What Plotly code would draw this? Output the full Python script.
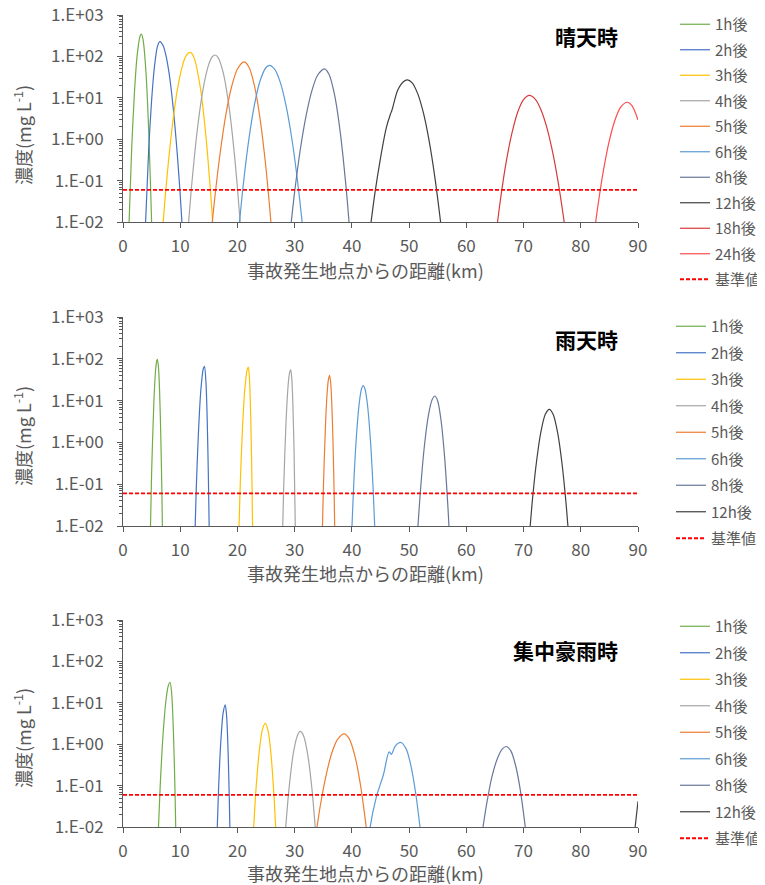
import plotly.graph_objects as go

W, H = 765, 885
OFF = 8  # the page body margin shifts the figure by this many pixels
FONT = "Noto Sans CJK JP"
GRAY = "#595959"

# ---------------- 晴天時 (sunny) ----------------
sunny_labels = ["1h後", "2h後", "3h後", "4h後", "5h後", "6h後", "8h後", "12h後", "18h後", "24h後"]
sunny_1h_km = [0.9, 1.5, 2.0, 2.5, 3.0, 3.2, 3.5, 4.0, 4.5, 5.0, 5.2]
sunny_1h_conc = [0.0023, 0.51, 13.5, 115, 316, 347, 257, 44, 1.48, 0.010, 0.0009]
sunny_2h_km = [3.7, 4.5, 5.0, 5.5, 6.0, 6.43, 7.0, 7.5, 8.0, 8.5, 9.0, 9.5, 10.0, 10.5]
sunny_2h_conc = [0.0016, 0.60, 8.7, 57, 170, 228, 183, 106, 44, 12.9, 2.7, 0.41, 0.045, 0.0035]
sunny_3h_km = [6.8, 7.5, 8.5, 9.5, 10.5, 11.0, 11.7, 12.0, 12.5, 13.5, 14.5, 15.5, 16.0]
sunny_3h_conc = [0.0041, 0.063, 1.53, 15.7, 68, 102, 126, 119, 86, 18.1, 1.15, 0.022, 0.0020]
sunny_4h_km = [11.2, 12.0, 13.0, 14.0, 15.0, 15.6, 16.08, 16.6, 17.5, 18.5, 19.5, 20.5, 20.8]
sunny_4h_conc = [0.0034, 0.077, 1.74, 16.5, 65, 98, 108, 95, 41, 6.5, 0.39, 0.0089, 0.0024]
sunny_5h_km = [15.3, 16.0, 17.0, 18.0, 19.0, 20.0, 21.17, 22.0, 23.0, 24.0, 25.0, 25.8, 26.2]
sunny_5h_conc = [0.0036, 0.034, 0.49, 4.1, 19.0, 49.7, 73.6, 55.6, 18.8, 2.8, 0.19, 0.012, 0.0025]
sunny_6h_km = [20.0, 21.0, 22.0, 23.0, 24.0, 25.0, 25.61, 26.5, 27.5, 28.5, 29.5, 30.5, 31.3, 31.7]
sunny_6h_conc = [0.0030, 0.075, 1.0, 7.1, 27, 54, 61, 49, 23.3, 6.4, 1.04, 0.098, 0.010, 0.0028]
sunny_8h_km = [29.0, 30.0, 31.0, 32.0, 33.0, 34.0, 35.2, 36.0, 37.0, 38.0, 39.0, 39.5, 39.8]
sunny_8h_conc = [0.0030, 0.054, 0.58, 3.7, 14.7, 35, 50, 37, 11.3, 1.35, 0.065, 0.010, 0.0029]
sunny_12h_km = [43.0, 44.0, 45.0, 46.0, 46.7, 47.0, 48.0, 49.0, 49.7, 50.5, 51.5, 52.5, 53.5, 54.5, 55.5, 56.0]
sunny_12h_conc = [0.0041, 0.047, 0.35, 1.85, 3.9, 5.0, 15.2, 24.5, 27, 23.2, 12.6, 4.3, 0.91, 0.12, 0.010, 0.0024]
sunny_18h_km = [65.0, 66.0, 67.0, 68.0, 69.0, 70.0, 71.0, 72.0, 73.0, 74.0, 75.0, 76.0, 77.0, 77.5]
sunny_18h_conc = [0.0031, 0.038, 0.30, 1.46, 4.6, 9.0, 11.4, 9.4, 5.3, 2.07, 0.55, 0.10, 0.0126, 0.0039]
sunny_24h_km = [82.2, 83.0, 84.0, 85.0, 86.0, 87.0, 88.1, 89.0, 90.0]
sunny_24h_conc = [0.0036, 0.025, 0.19, 0.94, 2.96, 6.0, 7.8, 6.3, 2.9]

# ---------------- 雨天時 (rain) ----------------
rain_labels = ["1h後", "2h後", "3h後", "4h後", "5h後", "6h後", "8h後", "12h後"]
rain_1h_km = [4.6, 5.0, 5.4, 5.7, 5.9, 6.01, 6.2, 6.4, 6.6, 6.8, 7.0]
rain_1h_conc = [0.00046, 0.18, 9.7, 54, 90, 97, 63, 16, 1.55, 0.059, 0.00087]
rain_2h_km = [12.4, 12.8, 13.2, 13.6, 14.0, 14.24, 14.5, 14.7, 14.9, 15.1]
rain_2h_conc = [0.0010, 0.076, 1.9, 17.4, 55, 66, 27, 4.2, 0.22, 0.0042]
rain_3h_km = [20.0, 20.5, 20.9, 21.3, 21.7, 21.9, 22.1, 22.3, 22.5, 22.7]
rain_3h_conc = [0.0005, 0.11, 2.45, 19.5, 55, 63, 34, 5.2, 0.23, 0.0030]
rain_4h_km = [27.7, 28.1, 28.5, 28.9, 29.1, 29.3, 29.5, 29.7, 29.9, 30.2]
rain_4h_conc = [0.0007, 0.098, 3.3, 27, 46, 55, 33, 7.1, 0.55, 0.0017]
rain_5h_km = [34.6, 35.0, 35.4, 35.7, 35.9, 36.1, 36.3, 36.5, 36.7, 36.9, 37.1]
rain_5h_conc = [0.00026, 0.066, 2.95, 17, 32, 40, 26, 7.8, 1.0, 0.057, 0.0014]
rain_6h_km = [39.8, 40.3, 40.8, 41.3, 41.7, 41.98, 42.3, 42.7, 43.2, 43.7, 44.2]
rain_6h_conc = [0.0019, 0.087, 1.47, 9.1, 19.5, 22.7, 18.7, 8.5, 1.35, 0.084, 0.0020]
rain_8h_km = [51.3, 52.0, 52.7, 53.4, 54.0, 54.52, 55.0, 55.6, 56.2, 56.8, 57.2]
rain_8h_conc = [0.0030, 0.077, 0.89, 4.7, 10.4, 12.9, 9.8, 3.2, 0.45, 0.026, 0.0025]
rain_12h_km = [70.9, 71.6, 72.3, 73.0, 73.8, 74.5, 75.2, 76.0, 76.7, 77.4, 78.0]
rain_12h_conc = [0.0036, 0.050, 0.38, 1.70, 4.7, 6.2, 4.6, 1.58, 0.33, 0.038, 0.0037]

# ---------------- 集中豪雨時 (heavy rain) ----------------
heavy_labels = ["1h後", "2h後", "3h後", "4h後", "5h後", "6h後", "8h後", "12h後"]
heavy_1h_km = [6.0, 6.5, 7.0, 7.5, 7.9, 8.23, 8.5, 8.8, 9.1, 9.4]
heavy_1h_conc = [0.0021, 0.097, 1.7, 11.2, 25.5, 31.4, 17.3, 2.2, 0.063, 0.0004]
heavy_2h_km = [16.3, 16.7, 17.1, 17.5, 17.86, 18.1, 18.35, 18.6, 18.8]
heavy_2h_conc = [0.0019, 0.083, 1.2, 5.7, 8.9, 5.0, 0.79, 0.035, 0.0012]
heavy_3h_km = [22.6, 23.2, 23.8, 24.4, 24.87, 25.4, 25.9, 26.4, 26.9]
heavy_3h_conc = [0.0025, 0.067, 0.66, 2.37, 3.2, 1.96, 0.50, 0.052, 0.0023]
heavy_4h_km = [28.2, 29.0, 29.8, 30.5, 31.0, 31.6, 32.3, 33.0, 33.8]
heavy_4h_conc = [0.0037, 0.081, 0.64, 1.65, 2.03, 1.53, 0.54, 0.088, 0.0043]
heavy_5h_km = [33.6, 34.5, 35.5, 36.5, 37.5, 38.65, 39.5, 40.5, 41.5, 42.5, 42.8]
heavy_5h_conc = [0.0051, 0.034, 0.18, 0.62, 1.31, 1.78, 1.38, 0.54, 0.104, 0.010, 0.0043]
heavy_6h_km = [43.0, 43.2, 44.3, 45.5, 46.5, 46.9, 47.6, 48.57, 49.5, 50.3, 51.1, 51.9, 52.2]
heavy_6h_conc = [0.005, 0.010, 0.055, 0.18, 0.65, 0.57, 0.91, 1.1, 0.76, 0.31, 0.073, 0.010, 0.0042]
heavy_8h_km = [62.6, 63.5, 64.5, 65.5, 66.3, 67.0, 67.8, 68.6, 69.4, 70.3, 70.6]
heavy_8h_conc = [0.0050, 0.033, 0.17, 0.48, 0.77, 0.88, 0.68, 0.31, 0.083, 0.010, 0.0043]
heavy_12h_km = [89.2, 89.5, 90.0]
heavy_12h_conc = [0.004, 0.010, 0.042]

# reference value (基準値)
ref_label = "基準値"
ref_km = [0, 90]
ref_conc = [0.06, 0.06]

y_tickvals = [0.01, 0.1, 1, 10, 100, 1000]
y_ticktext = ["1.E-02", "1.E-01", "1.E+00", "1.E+01", "1.E+02", "1.E+03"]
x_title = "事故発生地点からの距離(km)"
y_title = "濃度(mg L<sup>-1</sup>)"
panel_titles = ["晴天時", "雨天時", "集中豪雨時"]

colors = {
    "1h後": "#70AD47", "2h後": "#4472C4", "3h後": "#FFC000", "4h後": "#A5A5A5",
    "5h後": "#ED7D31", "6h後": "#5B9BD5", "8h後": "#66789A", "12h後": "#404040",
    "18h後": "#D63A3A", "24h後": "#FF4B4B",
}

panels = [
    (sunny_labels, [(sunny_1h_km, sunny_1h_conc), (sunny_2h_km, sunny_2h_conc), (sunny_3h_km, sunny_3h_conc),
                    (sunny_4h_km, sunny_4h_conc), (sunny_5h_km, sunny_5h_conc), (sunny_6h_km, sunny_6h_conc),
                    (sunny_8h_km, sunny_8h_conc), (sunny_12h_km, sunny_12h_conc), (sunny_18h_km, sunny_18h_conc),
                    (sunny_24h_km, sunny_24h_conc)]),
    (rain_labels, [(rain_1h_km, rain_1h_conc), (rain_2h_km, rain_2h_conc), (rain_3h_km, rain_3h_conc),
                   (rain_4h_km, rain_4h_conc), (rain_5h_km, rain_5h_conc), (rain_6h_km, rain_6h_conc),
                   (rain_8h_km, rain_8h_conc), (rain_12h_km, rain_12h_conc)]),
    (heavy_labels, [(heavy_1h_km, heavy_1h_conc), (heavy_2h_km, heavy_2h_conc), (heavy_3h_km, heavy_3h_conc),
                    (heavy_4h_km, heavy_4h_conc), (heavy_5h_km, heavy_5h_conc), (heavy_6h_km, heavy_6h_conc),
                    (heavy_8h_km, heavy_8h_conc), (heavy_12h_km, heavy_12h_conc)]),
]

# layout geometry in screen pixels (converted to figure pixels by removing OFF)
plot_left, plot_right = 123 - OFF, 638 - OFF
plot_rows = [(15 - OFF, 222 - OFF), (317 - OFF, 526 - OFF), (620 - OFF, 827 - OFF)]
legend_pos = [(675 - OFF, 6 - OFF - 16, 3), (671 - OFF, 326 - OFF - 16, 4), (675 - OFF, 627 - OFF - 17, 4)]
xtitle_y = [270 - OFF, 573 - OFF, 873 - OFF]
xtitle_x = 365 - OFF
ytitle_y = [135 - OFF, 436 - OFF, 738 - OFF]
ytitle_x = 22 - OFF
ptitle_y = [36 - OFF, 339 - OFF, 650 - OFF]
ptitle_x = 620 - OFF


def px_x(px):
    return (px - plot_left) / (plot_right - plot_left)


def py(px):
    return (H - px) / H


fig = go.Figure()
layout = dict(
    width=W, height=H, margin=dict(l=plot_left, r=W - plot_right, t=0, b=0, autoexpand=False),
    paper_bgcolor="white", plot_bgcolor="white",
    font=dict(family=FONT, color=GRAY),
    annotations=[],
)

minor_vals = [m * 10.0 ** e for e in range(-2, 3) for m in range(2, 10)]

for i, (labels, series) in enumerate(panels):
    n = "" if i == 0 else str(i + 1)
    xa, ya = "x" + n, "y" + n
    leg = "legend" + n
    for lab, (km, conc) in zip(labels, series):
        fig.add_trace(go.Scatter(
            x=km, y=conc, mode="lines", name=lab, xaxis=xa, yaxis=ya,
            line=dict(color=colors[lab], width=1.2, shape="spline", smoothing=0.8),
            legend=leg, legendgroup=f"{i}-{lab}",
        ))
    fig.add_trace(go.Scatter(
        x=ref_km, y=ref_conc, mode="lines", name=ref_label, xaxis=xa, yaxis=ya,
        line=dict(color="#FF0000", width=1.8, dash="4px,2px"),
        legend=leg, legendgroup=f"{i}-ref",
    ))
    top, bot = plot_rows[i]
    layout["xaxis" + n] = dict(
        domain=[0, 1], anchor=ya, range=[0, 90], dtick=10,
        showgrid=False, zeroline=False, showline=True, linecolor=GRAY, linewidth=1,
        ticks="outside", ticklen=5, tickcolor=GRAY, ticklabelstandoff=4,
        ticklabeloverflow="allow",
        tickfont=dict(size=17, color=GRAY, family=FONT),
    )
    layout["yaxis" + n] = dict(
        domain=[py(bot), py(top)], anchor=xa, type="log", range=[-2, 3],
        tickmode="array", tickvals=y_tickvals, ticktext=y_ticktext,
        showgrid=False, zeroline=False, showline=True, linecolor=GRAY, linewidth=1,
        ticks="outside", ticklen=5, tickcolor=GRAY, ticklabelstandoff=10,
        ticklabeloverflow="allow",
        tickfont=dict(size=17, color=GRAY, family=FONT),
        minor=dict(tickmode="array", tickvals=minor_vals, ticks="outside", ticklen=3,
                   tickcolor=GRAY, showgrid=False),
    )
    lx, ltop, gap = legend_pos[i]
    layout[leg] = dict(
        xref="container", yref="container",
        x=lx / W, y=py(ltop), xanchor="left", yanchor="top",
        font=dict(size=15, color=GRAY, family=FONT), bgcolor="rgba(0,0,0,0)",
        tracegroupgap=gap, traceorder="grouped",
    )
    layout["annotations"] += [
        dict(text=x_title, xref="paper", yref="paper", x=px_x(xtitle_x), y=py(xtitle_y[i]),
             xanchor="center", yanchor="middle", showarrow=False,
             font=dict(size=18, color=GRAY, family=FONT)),
        dict(text=y_title, xref="paper", yref="paper", x=px_x(ytitle_x), y=py(ytitle_y[i]),
             xanchor="center", yanchor="middle", showarrow=False, textangle=-90,
             font=dict(size=18, color=GRAY, family=FONT)),
        dict(text="<b>" + panel_titles[i] + "</b>", xref="paper", yref="paper", x=px_x(ptitle_x), y=py(ptitle_y[i]),
             xanchor="right", yanchor="middle", showarrow=False,
             font=dict(size=21, color="black", family=FONT)),
    ]

fig.update_layout(**layout)
fig.write_html("out.html")
